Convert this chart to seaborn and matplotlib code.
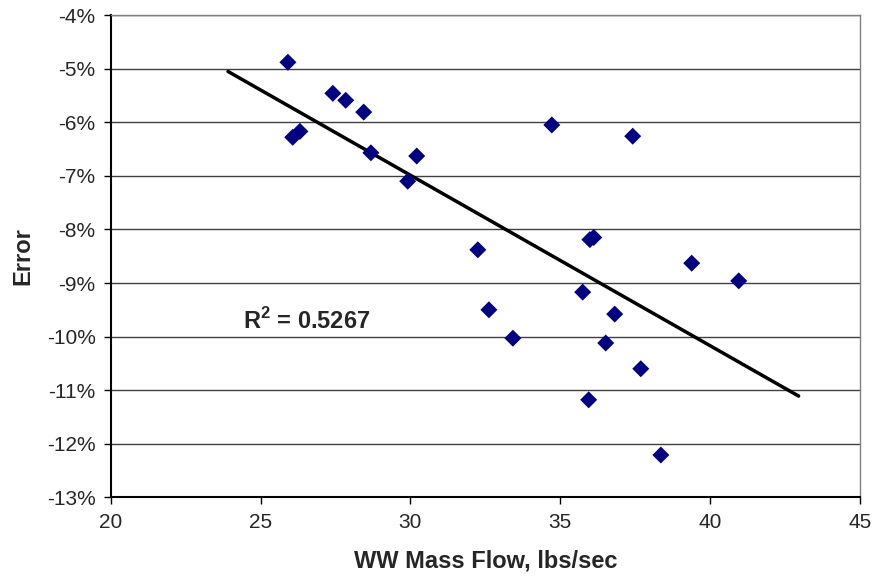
import numpy as np
import pandas as pd
import matplotlib
matplotlib.use("Agg")
import matplotlib.pyplot as plt
import seaborn as sns
from matplotlib.ticker import FuncFormatter, MultipleLocator

# ── data ──────────────────────────────────────────────────────────────────────
mass_flow = [25.91, 26.07, 26.31, 27.41, 27.84, 28.44, 28.68, 30.21, 29.91,
             34.72, 37.42, 32.25, 35.99, 36.12, 39.39, 40.96, 35.75, 32.62,
             36.82, 33.42, 36.52, 37.69, 35.95, 38.36]
error_pct = [-4.88, -6.28, -6.17, -5.46, -5.59, -5.81, -6.57, -6.63, -7.10,
             -6.05, -6.26, -8.38, -8.19, -8.15, -8.63, -8.96, -9.17, -9.50,
             -9.58, -10.03, -10.12, -10.60, -11.18, -12.21]
r2_label = "R$^\\mathbf{2}$ = 0.5267"
forecast = 2.0   # trendline extended both ways, like Excel

df = pd.DataFrame({"flow": mass_flow, "err": error_pct})

# ── style ─────────────────────────────────────────────────────────────────────
sns.set_theme(style="white")
plt.rcParams["font.family"] = ["Liberation Sans", "DejaVu Sans"]
plt.rcParams["mathtext.fontset"] = "custom"
plt.rcParams["mathtext.bf"] = "Liberation Sans:bold"
plt.rcParams["mathtext.rm"] = "Liberation Sans"

fig = plt.figure(figsize=(8.8, 5.81), dpi=100)
ax = fig.add_axes([0.126, 0.144, 0.851, 0.830])

# trendline from a least-squares fit
slope, intercept = np.polyfit(df["flow"], df["err"], 1)
x_line = np.array([df["flow"].min() - forecast, df["flow"].max() + forecast])
ax.plot(x_line, slope * x_line + intercept, color="black", linewidth=2.5, zorder=2)

sns.scatterplot(data=df, x="flow", y="err", marker="D", s=75, color="#000080",
                edgecolor="none", ax=ax, zorder=3)

ax.set_xlim(20, 45)
ax.set_ylim(-13, -4)
ax.xaxis.set_major_locator(MultipleLocator(5))
ax.yaxis.set_major_locator(MultipleLocator(1))
ax.yaxis.set_major_formatter(FuncFormatter(lambda v, p: f"{v:.0f}%"))
ax.grid(axis="y", color="#404040", linewidth=1)
ax.set_axisbelow(True)

for side in ("top", "right"):
    ax.spines[side].set_color("#808080")
    ax.spines[side].set_linewidth(1)
for side in ("left", "bottom"):
    ax.spines[side].set_color("black")
    ax.spines[side].set_linewidth(1.5)

ax.tick_params(axis="both", direction="out", length=5, width=1, color="black",
               labelsize=15, pad=6, bottom=True, left=True)
ax.set_xlabel("WW Mass Flow, lbs/sec", fontsize=17, fontweight="bold", labelpad=13)
ax.set_ylabel("Error", fontsize=17, fontweight="bold", labelpad=9)

ax.text(24.4, -9.85, r2_label, fontsize=17, fontweight="bold")

fig.savefig("out.png", dpi=100)
